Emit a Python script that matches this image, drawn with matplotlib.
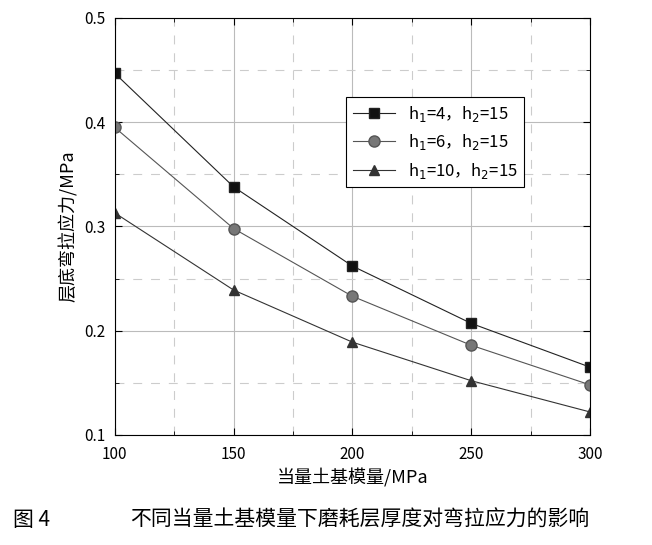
import matplotlib.pyplot as plt
from matplotlib.ticker import MultipleLocator

plt.rcParams['font.family'] = ['Noto Sans CJK SC']

modulus = [100, 150, 200, 250, 300]
h4 = [0.447, 0.338, 0.262, 0.207, 0.165]
h6 = [0.395, 0.298, 0.233, 0.186, 0.148]
h10 = [0.313, 0.239, 0.189, 0.152, 0.122]

fig = plt.figure(figsize=(6.52, 5.45), dpi=100)
ax = fig.add_axes([0.176, 0.202, 0.729, 0.765])

ax.plot(modulus, h4, '-s', color='#222222', lw=0.8, ms=7, mfc='#111111', label='h$_1$=4，h$_2$=15')
ax.plot(modulus, h6, '-o', color='#555555', lw=0.8, ms=8, mfc='#777777', label='h$_1$=6，h$_2$=15')
ax.plot(modulus, h10, '-^', color='#333333', lw=0.8, ms=7, mfc='#333333', label='h$_1$=10，h$_2$=15')

ax.set_xlim(100, 300)
ax.set_ylim(0.1, 0.5)
ax.xaxis.set_major_locator(MultipleLocator(50))
ax.yaxis.set_major_locator(MultipleLocator(0.1))
ax.xaxis.set_minor_locator(MultipleLocator(25))
ax.yaxis.set_minor_locator(MultipleLocator(0.05))
ax.grid(which='major', color='#bbbbbb', lw=0.8)
ax.grid(which='minor', color='#cccccc', lw=0.8, ls=(0, (8, 8)))
ax.tick_params(which='both', direction='in', top=True, right=True, labelsize=11)
ax.tick_params(which='major', length=5)
ax.tick_params(which='minor', length=3)
ax.tick_params(axis='x', pad=8)
ax.tick_params(axis='y', pad=7)

ax.set_xlabel('当量土基模量/MPa', fontsize=13)
ax.set_ylabel('层底弯拉应力/MPa', fontsize=13)

leg = ax.legend(loc='upper left', bbox_to_anchor=(0.47, 0.83), fontsize=12,
                fancybox=False, edgecolor='black', framealpha=1, handlelength=2.5)
leg.get_frame().set_linewidth(0.8)

fig.text(0.02, 0.035, '图 4', fontsize=15)
fig.text(0.20, 0.035, '不同当量土基模量下磨耗层厚度对弯拉应力的影响', fontsize=15)

fig.savefig('out.png')
